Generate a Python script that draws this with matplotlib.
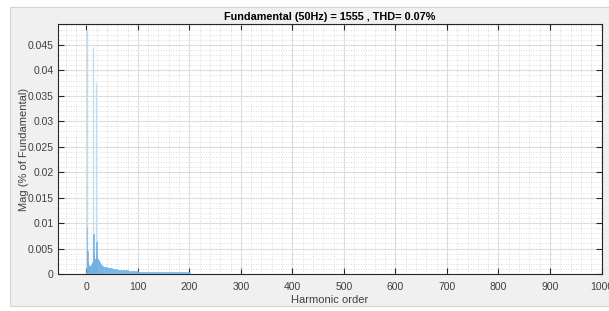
import numpy as np
import matplotlib
matplotlib.use("Agg")
import matplotlib.pyplot as plt
from matplotlib.patches import Rectangle
from matplotlib.ticker import MultipleLocator

plt.rcParams['font.family'] = ['Liberation Sans', 'DejaVu Sans']

# Spectrum envelope (harmonic order, magnitude % of fundamental)
orders = [0, 1, 2, 3, 4, 5, 6, 7, 8, 9, 10, 11, 12, 13, 14, 15, 16, 17, 18, 19,
          20, 21, 22, 24, 26, 28, 30, 33, 36, 40, 45, 50, 60, 70, 80, 90, 100,
          120, 140, 160, 180, 200]
mags = [0.0005, 0.0092, 0.0045, 0.0025, 0.0018, 0.0016, 0.0015, 0.0015, 0.0016,
        0.0017, 0.0019, 0.0024, 0.0040, 0.0078, 0.0042, 0.0030, 0.0026, 0.0030,
        0.0045, 0.0062, 0.0036, 0.0030, 0.0027, 0.0023, 0.0020, 0.0018, 0.0016,
        0.0014, 0.0013, 0.0012, 0.0011, 0.0010, 0.0008, 0.0007, 0.0006, 0.0005,
        0.00045, 0.0004, 0.00035, 0.0003, 0.0003, 0.00028]
# Narrow spikes
spike_orders = [1, 13, 19]
spike_mags = [0.048, 0.0445, 0.0375]

title = "Fundamental (50Hz) = 1555 , THD= 0.07%"
xlabel = "Harmonic order"
ylabel = "Mag (% of Fundamental)"

fig = plt.figure(figsize=(6.09, 3.11), dpi=100, facecolor='white')
panel = Rectangle((10/609, 1-306/311), 599/609, (306-7)/311,
                  transform=fig.transFigure, facecolor='#f0f0f0',
                  edgecolor='#d4d4d4', linewidth=0.8, zorder=-10)
fig.add_artist(panel)

ax = fig.add_axes([58.5/609, 1-274/311, (601.5-58.5)/609, (274-24)/311])
ax.set_zorder(1)
ax.set_facecolor('white')

o = np.array(orders, dtype=float)
widths = np.append(np.diff(o), 1.0)
ax.bar(o, mags, width=widths, align='edge', color='#7ab8e6', edgecolor='#6aaee2',
       linewidth=0.4, zorder=3)
ax.vlines(spike_orders, 0, spike_mags, color='#c2dcf1', linewidth=1.0, zorder=2.5)

ax.set_xlim(-54, 1000)
ax.set_ylim(0, 0.0491)
ax.xaxis.set_major_locator(MultipleLocator(100))
ax.xaxis.set_minor_locator(MultipleLocator(20))
ax.yaxis.set_major_locator(MultipleLocator(0.005))
ax.yaxis.set_minor_locator(MultipleLocator(0.001))
ax.set_yticks(np.arange(0, 0.0451, 0.005))
ax.set_yticklabels(['0', '0.005', '0.01', '0.015', '0.02', '0.025', '0.03',
                    '0.035', '0.04', '0.045'])

ax.grid(which='major', color='#dcdcdc', linewidth=0.8, zorder=1)
ax.grid(which='minor', color='#d0d0d0', linestyle=(0, (1, 2)), linewidth=0.6, zorder=1)
ax.set_axisbelow(True)

for s in ax.spines.values():
    s.set_color('#262626')
    s.set_linewidth(0.8)
ax.tick_params(which='major', direction='in', length=4, width=0.8, colors='#262626',
               labelsize=7.5, top=True, right=True, labelcolor='#404040')
ax.tick_params(which='minor', length=0, top=True, right=True)
ax.tick_params(axis='x', pad=6)

ax.set_title(title, fontsize=7.8, fontweight='bold', pad=3, color='black')
ax.set_xlabel(xlabel, fontsize=8, color='#404040', labelpad=2)
ax.set_ylabel(ylabel, fontsize=8, color='#404040', labelpad=-1)

fig.savefig('out.png', dpi=100, facecolor=fig.get_facecolor())
